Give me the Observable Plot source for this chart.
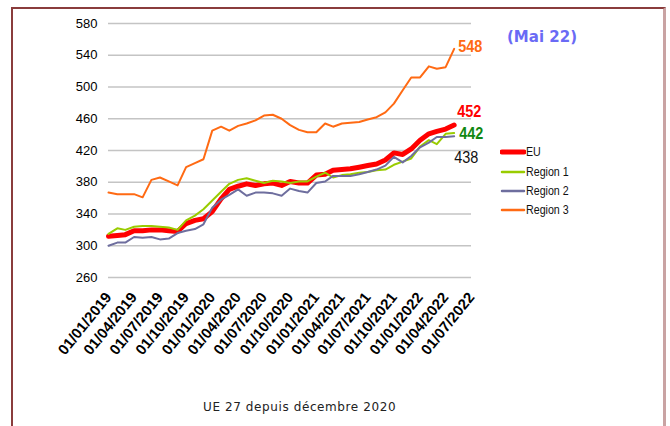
<!DOCTYPE html>
<html><head><meta charset="utf-8">
<script src="https://cdn.jsdelivr.net/npm/d3@7"></script>
<script src="https://cdn.jsdelivr.net/npm/@observablehq/plot@0.6"></script>
<style>
body{margin:0;background:#fff;}
#wrap{position:relative;width:670px;height:426px;overflow:hidden;font-family:"Liberation Sans",Arial,sans-serif;}
#frame{position:absolute;left:11px;top:7px;width:655px;height:440px;border-top:2px solid #8a3c3c;border-left:2px solid #8a3c3c;border-right:3px solid #c9a3a3;box-sizing:border-box;}
#chart{position:absolute;left:0;top:0;}
#legend{position:absolute;left:500px;top:143px;}
.item{position:absolute;left:0;height:18px;white-space:nowrap;font-size:13px;color:#111;}
.item svg{position:absolute;left:0;top:4px;}
.item span{position:absolute;left:26px;top:0;line-height:18px;display:inline-block;transform:scaleX(0.82);transform-origin:0 50%;}
#mai{position:absolute;left:507px;top:28px;font-family:"DejaVu Sans",sans-serif;font-weight:bold;font-size:15px;color:#6a6af5;}
#caption{position:absolute;left:203px;top:400px;font-family:"DejaVu Sans",sans-serif;font-size:12px;color:#222;letter-spacing:0.6px;}
</style></head>
<body>
<div id="wrap">
  <div id="chart"></div>
  <div id="frame"></div>
  <div id="mai">(Mai 22)</div>
  <div id="legend"></div>
  <div id="caption">UE 27 depuis décembre 2020</div>
</div>
<script>
const months = ["2019-01","2019-02","2019-03","2019-04","2019-05","2019-06","2019-07","2019-08","2019-09","2019-10","2019-11","2019-12",
"2020-01","2020-02","2020-03","2020-04","2020-05","2020-06","2020-07","2020-08","2020-09","2020-10","2020-11","2020-12",
"2021-01","2021-02","2021-03","2021-04","2021-05","2021-06","2021-07","2021-08","2021-09","2021-10","2021-11","2021-12",
"2022-01","2022-02","2022-03","2022-04","2022-05"];
const eu = [312,313,314,319,319,320,320,319,318,328,332,334,343,359,371,375,378,376,378,379,376,381,379,379,389,390,395,396,397,399,401,403,408,417,415,422,433,441,444,447,452];
const region1 = [315,322,320,324,325,325,324,323,320,332,338,346,357,368,378,383,385,382,379,382,381,379,381,381,387,392,386,389,390,392,393,395,396,402,406,410,425,433,428,441,442];
const region2 = [300,304,304,311,310,311,308,309,316,319,321,327,348,358,364,371,363,367,367,366,363,372,369,367,379,381,388,388,388,390,393,396,401,412,405,413,424,430,437,437,438];
const region3 = [367,365,365,365,361,383,386,381,376,399,404,409,445,450,445,451,454,458,464,465,460,452,446,443,443,454,450,454,455,456,459,462,468,479,496,512,512,526,523,525,548];
const seriesNames = ["EU","Region 1","Region 2","Region 3"];
const seriesColors = ["#ff0000","#99cc00","#6e6e9e","#ff6a13"];
const seriesWidths = [5,2,2,2];
const xTickLabels = ["01/01/2019","01/04/2019","01/07/2019","01/10/2019","01/01/2020","01/04/2020","01/07/2020","01/10/2020","01/01/2021","01/04/2021","01/07/2021","01/10/2021","01/01/2022","01/04/2022","01/07/2022"];
const yTicks = [260,300,340,380,420,460,500,540,580];
const endLabels = [
  {name:"Region 3", value:548, text:"548", color:"#ff6a13", weight:"bold", dx:4, dy:-2},
  {name:"EU", value:452, text:"452", color:"#ff0000", weight:"bold", dx:3, dy:-14},
  {name:"Region 1", value:442, text:"442", color:"#118811", weight:"bold", dx:5, dy:1},
  {name:"Region 2", value:438, text:"438", color:"#111111", weight:"normal", dx:0, dy:21}
];

const parseM = d3.utcParse("%Y-%m");
const parseT = d3.utcParse("%d/%m/%Y");
const dates = months.map(parseM);
const valuesBy = [eu, region1, region2, region3];
const rows = [];
seriesNames.forEach((n, s) => dates.forEach((d, i) => rows.push({date: d, value: valuesBy[s][i], name: n})));
const xTicks = xTickLabels.map(parseT);
const lastDate = dates[dates.length - 1];

const lineMarks = seriesNames.map((n, s) =>
  Plot.line(rows.filter(r => r.name === n), {x: "date", y: "value", stroke: seriesColors[s], strokeWidth: seriesWidths[s], strokeLinejoin: "round", strokeLinecap: "round"}));
const labelMarks = endLabels.map(l => Plot.text([l], {x: () => lastDate, y: "value", text: "text", fill: l.color, fontWeight: l.weight, textAnchor: "start", dx: l.dx, dy: l.dy, fontSize: 17, fontFamily: "'Liberation Sans',Arial,sans-serif"}));

const chart = Plot.plot({
  width: 670, height: 426,
  marginLeft: 108, marginRight: 199, marginTop: 23, marginBottom: 149,
  x: {type: "utc", domain: [xTicks[0], xTicks[xTicks.length - 1]]},
  y: {domain: [260, 580]},
  style: {background: "transparent", overflow: "visible", fontFamily: "'Liberation Sans',Arial,sans-serif", color: "#000"},
  marks: [
    Plot.gridY(yTicks, {stroke: "#c4c4c4", strokeOpacity: 1, strokeWidth: 1.6}),
    Plot.axisY(yTicks, {tickSize: 0, tickPadding: 11, fontSize: 13, tickFormat: d => String(d), label: null}),
    Plot.axisX(xTicks, {tickSize: 0, tickPadding: 17, tickRotate: -51, fontSize: 15, fontWeight: "bold", tickFormat: d3.utcFormat("%d/%m/%Y"), label: null}),
    ...lineMarks,
    ...labelMarks
  ]
});
document.getElementById("chart").appendChild(chart);
// narrow the end-label glyphs to mimic the condensed font of the original
d3.select(chart).selectAll("g[aria-label='text'] text").each(function() {
  const t = this.getAttribute("transform") || "";
  this.setAttribute("transform", t + " scale(0.85,1)");
});

const legend = document.getElementById("legend");
const legendTops = [0, 20, 39, 58];
seriesNames.forEach((n, s) => {
  const div = document.createElement("div");
  div.className = "item";
  div.style.top = legendTops[s] + "px";
  div.innerHTML = `<svg width="26" height="10"><line x1="2" x2="24" y1="5" y2="5" stroke="${seriesColors[s]}" stroke-width="${s === 0 ? 5 : 2.5}" stroke-linecap="round"/></svg><span>${n}</span>`;
  legend.appendChild(div);
});
</script>
</body></html>
